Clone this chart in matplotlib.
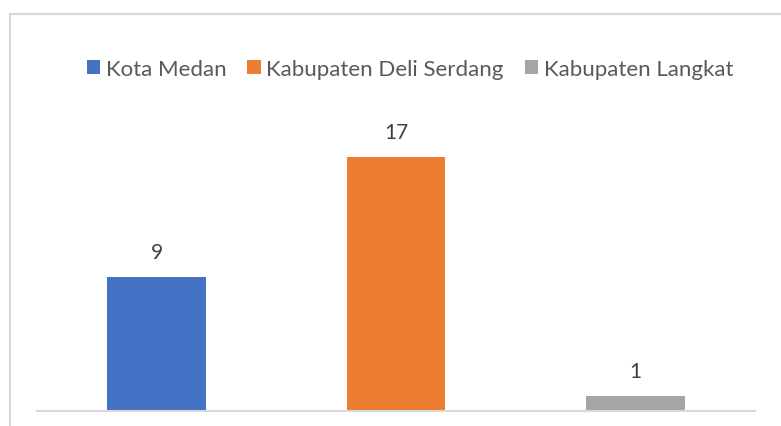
import matplotlib.pyplot as plt
from matplotlib.patches import Rectangle

# data
regions = ['Kota Medan', 'Kabupaten Deli Serdang', 'Kabupaten Langkat']
counts = [9, 17, 1]
colors = ['#4472c4', '#ed7d31', '#a5a5a5']

plt.rcParams['font.family'] = ['Lato', 'DejaVu Sans']

fig = plt.figure(figsize=(7.81, 4.27), dpi=100)
W, H = 781, 427
ax = fig.add_axes([37 / W, 15 / H, 718 / W, (412 - 113.4) / H])

# outer chart frame (Excel style)
fig.patches.append(Rectangle((10 / W, -0.1), 1.2, (427 - 15) / H + 0.1,
                             transform=fig.transFigure, fill=False,
                             edgecolor='#d9d9d9', linewidth=1.5))

for i, (name, val, c) in enumerate(zip(regions, counts, colors)):
    ax.bar(i, val, width=0.413, color=c, label=name)
    ax.annotate(str(val), (i, val), xytext=(0, 18), textcoords='offset points',
                ha='center', va='center', fontsize=15, color='#404040')

ax.set_xlim(-0.5, 2.5)
ax.set_ylim(0, 20)
for s in ['top', 'right', 'left']:
    ax.spines[s].set_visible(False)
ax.spines['bottom'].set_color('#d9d9d9')
ax.spines['bottom'].set_linewidth(1.5)
ax.set_xticks([])
ax.set_yticks([])

fig.legend(loc='center', bbox_to_anchor=(410 / W, 1 - 70 / H), ncol=3,
           frameon=False, fontsize=16, labelcolor='#595959',
           handlelength=0.6, handleheight=0.6, handletextpad=0.25,
           columnspacing=0.95)

fig.savefig('out.png', dpi=100)
